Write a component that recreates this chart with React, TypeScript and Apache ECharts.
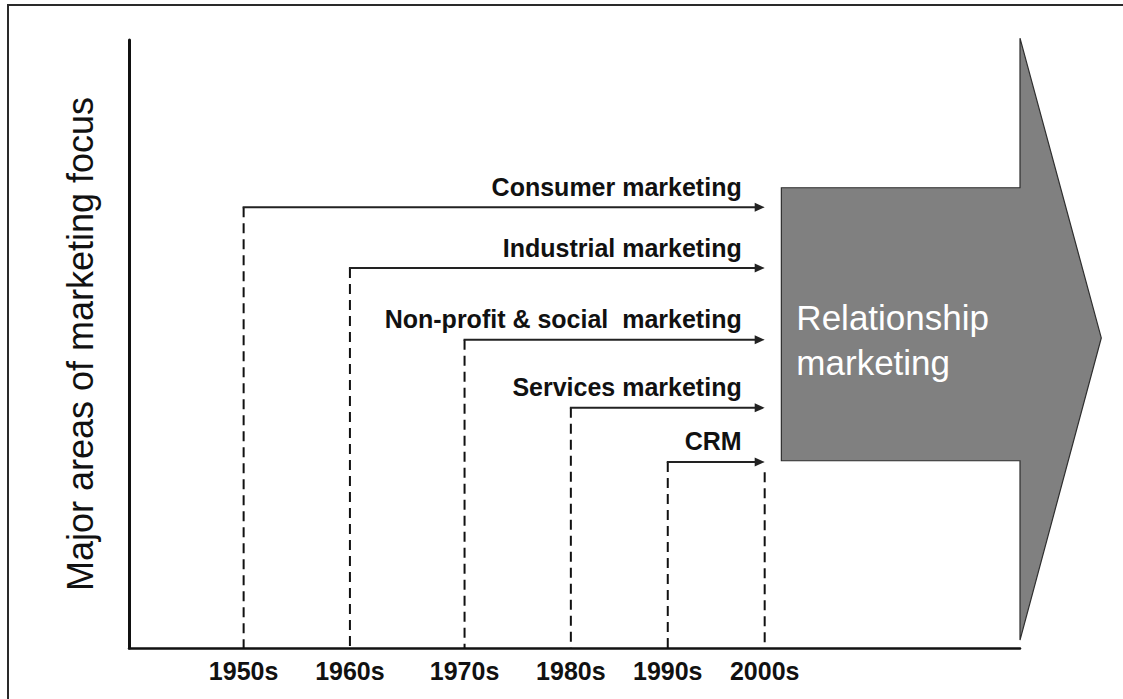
import React, { useEffect, useRef } from "react";
import * as echarts from "echarts";

// x axis: decades (positions, in year units)
const decadeLabels = ["1950s", "1960s", "1970s", "1980s", "1990s", "2000s"];
const decadePos = [1950, 1960.2, 1971.2, 1981.4, 1990.7, 2000];

// marketing streams: start decade, vertical level (0-100 scale)
const streams = [
  "Consumer marketing",
  "Industrial marketing",
  "Non-profit & social  marketing",
  "Services marketing",
  "CRM",
];
const streamStart = [1950, 1960.2, 1971.2, 1981.4, 1990.7];
const streamLevel = [72.5, 62.5, 50.7, 39.5, 30.6];
const streamEnd = 2000;
const finalDashTop = 28.9;

// outcome arrow (axis units)
const outcomeLabel = "Relationship\nmarketing";
const outcomeBodyX = [2001.6, 2024.5];
const outcomeBodyY = [30.8, 75.7];
const outcomeHeadX = [2024.5, 2032.3];
const outcomeHeadY = [1.3, 51, 100.3];

const yTitle = "Major areas of marketing focus";

const FONT = "'Liberation Sans', Arial, Helvetica, sans-serif";

export default function App() {
  const ref = useRef<HTMLDivElement>(null);

  useEffect(() => {
    const chart = echarts.init(ref.current!, null, { renderer: "svg" });

    const option: any = {
      animation: false,
      backgroundColor: "#ffffff",
      grid: { left: 129, top: 40, width: 891, bottom: 51 },
      xAxis: {
        type: "value",
        min: 1939,
        max: 2024.5,
        axisLine: { show: true, lineStyle: { color: "#111", width: 2.5 } },
        axisTick: { show: false },
        splitLine: { show: false },
        axisLabel: {
          customValues: decadePos,
          formatter: (v: number) => {
            const i = decadePos.indexOf(v);
            return i >= 0 ? decadeLabels[i] : "";
          },
          margin: 10,
          color: "#111",
          fontFamily: FONT,
          fontWeight: "bold",
          fontSize: 25,
        },
      },
      yAxis: {
        type: "value",
        min: 0,
        max: 100,
        name: yTitle,
        nameLocation: "middle",
        nameRotate: 90,
        nameGap: 31,
        nameTextStyle: { color: "#111", fontFamily: FONT, fontSize: 36 },
        axisLine: { show: true, lineStyle: { color: "#111", width: 3 } },
        axisTick: { show: false },
        axisLabel: { show: false },
        splitLine: { show: false },
      },
      graphic: [
        {
          type: "polyline",
          shape: { points: [[8, 699], [8, 5], [1123, 5]] },
          style: { stroke: "#2a2a2a", lineWidth: 2, fill: null },
        },
      ],
      series: [
        {
          type: "custom",
          clip: false,
          data: [[0]],
          renderItem: (_p: any, api: any) => {
            const tl = api.coord([outcomeBodyX[0], outcomeBodyY[1]]);
            const br = api.coord([outcomeBodyX[1], outcomeBodyY[0]]);
            const ht = api.coord([outcomeHeadX[0], outcomeHeadY[2]]);
            const tip = api.coord([outcomeHeadX[1], outcomeHeadY[1]]);
            const hb = api.coord([outcomeHeadX[0], outcomeHeadY[0]]);
            return {
              type: "group",
              children: [
                {
                  type: "polygon",
                  shape: {
                    points: [
                      [tl[0], tl[1]],
                      [br[0], tl[1]],
                      [ht[0], ht[1]],
                      [tip[0], tip[1]],
                      [hb[0], hb[1]],
                      [br[0], br[1]],
                      [tl[0], br[1]],
                    ],
                  },
                  style: { fill: "#808080", stroke: "#2e2e2e", lineWidth: 1.2 },
                },
                {
                  type: "text",
                  x: tl[0] + 15,
                  y: (tl[1] + br[1]) / 2 + 16,
                  style: {
                    text: outcomeLabel,
                    fill: "#ffffff",
                    font: `35px ${FONT}`,
                    lineHeight: 45,
                    align: "left",
                    verticalAlign: "middle",
                  },
                },
              ],
            };
          },
        },
        {
          type: "custom",
          clip: false,
          data: streams.map((_, i) => [streamStart[i], streamLevel[i], i]),
          renderItem: (_p: any, api: any) => {
            const start = api.value(0);
            const level = api.value(1);
            const i = api.value(2);
            const p0 = api.coord([start, level]);
            const pe = api.coord([streamEnd, level]);
            const pb = api.coord([start, 0]);
            return {
              type: "group",
              children: [
                {
                  type: "line",
                  shape: { x1: p0[0], y1: p0[1], x2: pb[0], y2: pb[1] },
                  style: { stroke: "#111", lineWidth: 2, lineDash: [10, 6] },
                },
                {
                  type: "line",
                  shape: { x1: p0[0] - 1, y1: p0[1], x2: pe[0] - 8, y2: p0[1] },
                  style: { stroke: "#222", lineWidth: 2 },
                },
                {
                  type: "polygon",
                  shape: {
                    points: [
                      [pe[0], p0[1]],
                      [pe[0] - 10, p0[1] - 4.5],
                      [pe[0] - 10, p0[1] + 4.5],
                    ],
                  },
                  style: { fill: "#222" },
                },
                {
                  type: "text",
                  x: pe[0] - 23,
                  y: p0[1] - 8,
                  style: {
                    text: streams[i],
                    fill: "#111",
                    font: `bold 25px ${FONT}`,
                    align: "right",
                    verticalAlign: "bottom",
                  },
                },
              ],
            };
          },
        },
        {
          type: "custom",
          clip: false,
          data: [[streamEnd, finalDashTop]],
          renderItem: (_p: any, api: any) => {
            const p0 = api.coord([api.value(0), api.value(1)]);
            const pb = api.coord([api.value(0), 0]);
            return {
              type: "line",
              shape: { x1: p0[0], y1: p0[1], x2: pb[0], y2: pb[1] },
              style: { stroke: "#111", lineWidth: 2, lineDash: [10, 6] },
            };
          },
        },
      ],
    };

    chart.setOption(option);
    return () => chart.dispose();
  }, []);

  return (
    <div
      ref={ref}
      style={{ position: "fixed", left: 0, top: 0, width: 1123, height: 699, background: "#fff" }}
    />
  );
}
